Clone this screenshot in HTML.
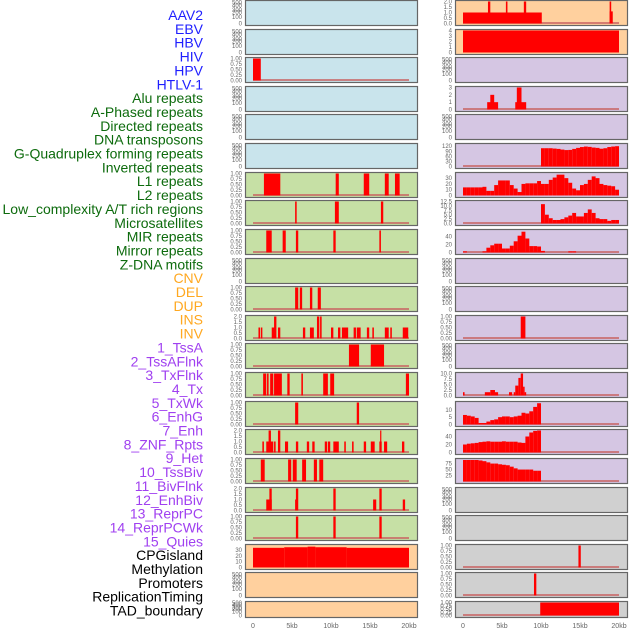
<!DOCTYPE html>
<html><head><meta charset="utf-8">
<style>
html,body{margin:0;padding:0;background:#fff;width:630px;height:630px;overflow:hidden}
svg{display:block;font-family:"Liberation Sans",sans-serif}
</style></head>
<body>
<svg id="chart" width="630" height="630" viewBox="0 0 630 630"></svg>
<script>
// ---------- Data (kb intervals: [start, end, value]) ----------
const labelTexts = ["AAV2","EBV","HBV","HIV","HPV","HTLV-1","Alu repeats","A-Phased repeats","Directed repeats","DNA transposons","G-Quadruplex forming repeats","Inverted repeats","L1 repeats","L2 repeats","Low_complexity A/T rich regions","Microsatellites","MIR repeats","Mirror repeats","Z-DNA motifs","CNV","DEL","DUP","INS","INV","1_TssA","2_TssAFlnk","3_TxFlnk","4_Tx","5_TxWk","6_EnhG","7_Enh","8_ZNF_Rpts","9_Het","10_TssBiv","11_BivFlnk","12_EnhBiv","13_ReprPC","14_ReprPCWk","15_Quies","CPGisland","Methylation","Promoters","ReplicationTiming","TAD_boundary"];
const labelGroups = ["virus","virus","virus","virus","virus","virus","repeat","repeat","repeat","repeat","repeat","repeat","repeat","repeat","repeat","repeat","repeat","repeat","repeat","sv","sv","sv","sv","sv","chrom","chrom","chrom","chrom","chrom","chrom","chrom","chrom","chrom","chrom","chrom","chrom","chrom","chrom","chrom","other","other","other","other","other"];
const xTickValues = [0,5,10,15,20];
const xTickLabels = ["0","5kb","10kb","15kb","20kb"];

const c1r2 = [[0,1.0,1]];
const c1r6 = [[1.4,3.5,1],[10.6,11.0,1],[14.2,14.9,1],[16.9,17.4,1],[18.2,18.8,1]];
const c1r7 = [[5.4,5.6,1],[10.5,11.0,1],[16.4,16.7,1]];
const c1r8 = [[1.7,2.4,1],[3.8,4.2,1],[5.5,5.8,1],[10.3,10.6,1],[16.2,16.4,1]];
const c1r10 = [[5.4,5.8,1],[6.0,6.3,1],[7.3,7.6,1],[8.3,8.7,1]];
const c1r11 = [[0.7,0.9,1],[1.0,1.2,1],[2.4,2.8,1],[2.7,3.0,2],[3.2,3.5,1],[6.4,6.7,1],[7.3,7.8,1],[8.2,8.5,2],[8.6,8.8,2],[10.0,10.3,1],[10.9,11.2,1],[11.4,12.2,1],[12.9,13.2,1],[13.3,13.8,1],[14.6,14.9,1],[15.3,15.5,1],[16.9,17.4,1],[17.6,17.8,1],[19.2,19.9,1]];
const c1r12 = [[12.3,13.6,1],[15.1,16.8,1]];
const c1r13 = [[1.3,1.7,1],[1.8,2.0,1],[2.2,2.6,1],[2.7,3.7,1],[4.4,4.7,1],[6.2,6.4,1],[9.0,9.6,1],[9.9,10.4,1],[19.6,20.0,1]];
const c1r14 = [[5.4,5.8,1],[13.3,13.6,1]];
const c1r15 = [[1.2,1.4,1],[1.7,2.6,1],[2.0,2.3,2],[2.7,2.9,1],[3.2,3.5,2],[4.1,4.5,1],[5.5,5.8,1],[6.9,7.2,1],[7.6,7.9,1],[9.2,9.5,1],[9.6,9.9,1],[10.3,11.0,1],[11.7,11.9,1],[12.7,12.9,1],[14.2,14.5,1],[15.1,15.6,1],[16.2,16.5,1],[16.3,16.4,2],[16.8,17.2,1],[19.1,19.4,1]];
const c1r16 = [[1.0,1.5,1],[4.5,4.9,1],[5.1,5.6,1],[6.3,6.8,1],[7.8,8.2,1],[8.5,9.0,1]];
const c1r17 = [[1.7,2.4,1],[2.1,2.4,2],[5.4,5.6,1],[5.5,5.8,2],[10.3,10.6,2],[15.4,15.8,1],[16.2,16.5,2],[19.2,19.5,1]];
const c1r18 = [[5.5,5.8,1],[10.3,10.6,1],[16.2,16.5,1]];
const c1r19 = [[0,4,34],[4,7,35],[7,8,36],[8,12,35],[12,20,34]];

const c2r0 = [[0,10.1,1],[3.2,3.5,2],[5.5,5.7,2],[7.8,8.1,2],[18.8,19.2,1.1],[18.8,19.0,2]];
const c2r1 = [[0,20,4]];
const c2r3 = [[3.1,4.5,1],[3.5,4.0,2],[6.7,8.1,1],[6.9,7.5,3]];
const c2r5Bins = [108,108,108,106,104,100,97,98,104,110,115,118,116,112,110,105,108,115,118,120];
const c2r6Bins = [14,14,14,14,14,15,8,8,18,26,26,26,18,12,6,20,21,21,21,25,20,20,27,31,36,36,30,22,12,9,18,20,27,33,30,20,18,17,16,10];
const c2r7Bins = [11,5,3,2,2,2.5,3.5,4.5,6,4,4,6,8,6,3,2.5,2.5,1.5,2,2];
const c2r8Bins = [3,0,0,0,0,3,12,18,22,22,10,10,17,28,42,52,35,16,16,15,4,0,0,0,0,0,0,3,3];
const c2r11 = [[7.4,8.0,1]];
const c2r13 = [[0,0.2,1.5],[2.8,3.5,1.5],[3.5,4.1,2.5],[4.1,4.5,1.5],[5.9,6.3,1.5],[6.5,6.7,1.5],[6.7,7.1,4.5],[7.1,7.4,8],[7.4,7.7,10],[7.7,7.9,4],[7.9,8.1,1.5]];
const c2r14Bins = [6.5,6,5.5,4.5,1,1,2,3,3.5,5,5.5,5.5,5,5.5,6,8,7.5,9,12,14.5];
const c2r15Bins = [20,22,23,24,26,27,28,27,27,27,28,27,27,27,25,24,40,50,54,55];
const c2r16Bins = [90,90,90,90,88,85,80,75,75,72,70,68,62,55,50,50,50,50,45,45];
const c2r19 = [[14.8,15.1,1]];
const c2r20 = [[9.1,9.4,1]];
const c2r21 = [[9.9,20,1]];

function bins(start, arr){ return arr.map((v,i)=>[start+i*0.5, start+(i+1)*0.5, v]); }

// ---------- Layout ----------
const NS="http://www.w3.org/2000/svg";
const svg=document.getElementById('chart');
function mk(tag,attrs,parent){const e=document.createElementNS(NS,tag);for(const k in attrs)e.setAttribute(k,attrs[k]);(parent||svg).appendChild(e);return e;}

const bg={blue:"#c9e4ec",green:"#c6e0a5",orange:"#ffd09e",purple:"#d5c6e3",gray:"#d0d0d0"};
const fmt={one:["0.00","0.25","0.50","0.75","1.00"],two:["0.0","0.5","1.0","1.5","2.0"]};
function panel(col,row,color,data,ymax,ticks,tickLabels,name,base){
  return {col,row,color,data,ymax,ticks,tickLabels,name,base};
}
const T1=[0,0.25,0.5,0.75,1], T2=[0,0.5,1,1.5,2];
const panels=[
 panel(0,0,"blue",null),panel(0,1,"blue",null),
 panel(0,2,"blue",c1r2,1,T1,fmt.one,"hiv",true),
 panel(0,3,"blue",null),panel(0,4,"blue",null),panel(0,5,"blue",null),
 panel(0,6,"green",c1r6,1,T1,fmt.one,"l1",true),
 panel(0,7,"green",c1r7,1,T1,fmt.one,"l2",true),
 panel(0,8,"green",c1r8,1,T1,fmt.one,"low-complexity",true),
 panel(0,9,"green",null),
 panel(0,10,"green",c1r10,1,T1,fmt.one,"mir",true),
 panel(0,11,"green",c1r11,2,T2,fmt.two,"mirror",true),
 panel(0,12,"green",c1r12,1,T1,fmt.one,"r12",true),
 panel(0,13,"green",c1r13,1,T1,fmt.one,"r13",true),
 panel(0,14,"green",c1r14,1,T1,fmt.one,"r14",true),
 panel(0,15,"green",c1r15,2,T2,fmt.two,"r15",true),
 panel(0,16,"green",c1r16,1,T1,fmt.one,"r16",true),
 panel(0,17,"green",c1r17,2,T2,fmt.two,"r17",true),
 panel(0,18,"green",c1r18,1,T1,fmt.one,"r18",true),
 panel(0,19,"orange",c1r19,38,[0,10,20,30],["0","10","20","30"],"cnv",false),
 panel(0,20,"orange",null),panel(0,21,"orange",null),
 panel(1,0,"orange",c2r0,2,T2,fmt.two,"ins",true),
 panel(1,1,"orange",c2r1,4,[0,1,2,3,4],["0","1","2","3","4"],"inv",false),
 panel(1,2,"purple",null),
 panel(1,3,"purple",c2r3,3,[0,1,2,3],["0","1","2","3"],"tssaflnk",true),
 panel(1,4,"purple",null),
 panel(1,5,"purple",bins(10,c2r5Bins),130,[0,30,60,90,120],["0","30","60","90","120"],"tx",true),
 panel(1,6,"purple",bins(0,c2r6Bins),38,[0,10,20,30],["0","10","20","30"],"txwk",false),
 panel(1,7,"purple",bins(10,c2r7Bins),12.5,[0,2.5,5,7.5,10,12.5],["0.0","2.5","5.0","7.5","10.0","12.5"],"enhg",true),
 panel(1,8,"purple",bins(0,c2r8Bins),55,[0,20,40],["0","20","40"],"enh",true),
 panel(1,9,"purple",null),panel(1,10,"purple",null),
 panel(1,11,"purple",c2r11,1,T1,fmt.one,"tssbiv",true),
 panel(1,12,"purple",null),
 panel(1,13,"purple",c2r13,10,[0,2.5,5,7.5,10],["0.0","2.5","5.0","7.5","10.0"],"enhbiv",true),
 panel(1,14,"purple",bins(0,c2r14Bins),15,[0,5,10],["0","5","10"],"reprpc",true),
 panel(1,15,"purple",bins(0,c2r15Bins),55,[0,20,40],["0","20","40"],"reprpcwk",true),
 panel(1,16,"purple",bins(0,c2r16Bins),92,[25,50,75],["25","50","75"],"quies",true),
 panel(1,17,"gray",null),panel(1,18,"gray",null),
 panel(1,19,"gray",c2r19,1,T1,fmt.one,"methylation",true),
 panel(1,20,"gray",c2r20,1,T1,fmt.one,"promoters",true),
 panel(1,21,"gray",c2r21,1,T1,fmt.one,"tad-boundary",true)
];

const colX=[245,455], panelW=172;
function rowTop(r){return Math.round(r*28.62);}
function rowH(r){return r===21?16:25;}
function xScale(col,kb){return colX[col]+8+kb*7.8;}

// labels
const labelColors={virus:"#1f1fff",repeat:"#0d6b0d",sv:"#ffa820",chrom:"#a040f0",other:"#000"};
labelTexts.forEach((t,i)=>{
  const e=mk('text',{x:203,y:20+i*13.85,'text-anchor':'end','font-size':'14',fill:labelColors[labelGroups[i]]});
  e.textContent=t;
  
  
});

const emptyFr=[0,0.3,0.5,0.62,0.82,0.95], emptyLab=["0","100","200","300","400","500"];
panels.forEach(p=>{
  const x0=colX[p.col], y0=rowTop(p.row), h=rowH(p.row);
  const g=mk('g',{});
  
  
  const r=mk('rect',{x:x0+0.5,y:y0+0.5,width:panelW,height:h,fill:bg[p.color],stroke:"#666","stroke-width":1.2},g);
  
  
  const bottom=y0+h-1.5, top=y0+1.5, ph=bottom-top;
  const tx=x0-3;
  if(!p.data){
    emptyFr.forEach((f,i)=>{
      const t=mk('text',{x:tx,y:bottom-f*ph+2,'text-anchor':'end','font-size':'6',fill:"#666"},g);
      t.textContent=emptyLab[i];
      
      
    });
    return;
  }
  const ys=v=>bottom-(v/p.ymax)*ph;
  p.ticks.forEach((v,i)=>{
    const t=mk('text',{x:tx,y:ys(v)+2,'text-anchor':'end','font-size':'6',fill:"#666"},g);
    t.textContent=p.tickLabels[i];
    
    
  });
  if(p.base){
    const b=mk('line',{x1:xScale(p.col,0),x2:xScale(p.col,20),y1:bottom-0.5,y2:bottom-0.5,stroke:"#c86060","stroke-width":1.5},g);
    
    
  }
  p.data.forEach(d=>{
    if(d[2]<=0)return;
    const xa=xScale(p.col,d[0]), xb=xScale(p.col,d[1]);
    const bar=mk('rect',{x:xa,y:ys(d[2]),width:Math.max(1.2,xb-xa),height:bottom-ys(d[2]),fill:"#ff0000"},g);
    
    
  });
});

// x axes
[0,1].forEach(col=>{
  xTickValues.forEach((v,i)=>{
    const t=mk('text',{x:xScale(col,v),y:628,'text-anchor':'middle','font-size':'7',fill:"#666"});
    t.textContent=xTickLabels[i];
    
    
  });
});
</script>
</body></html>
